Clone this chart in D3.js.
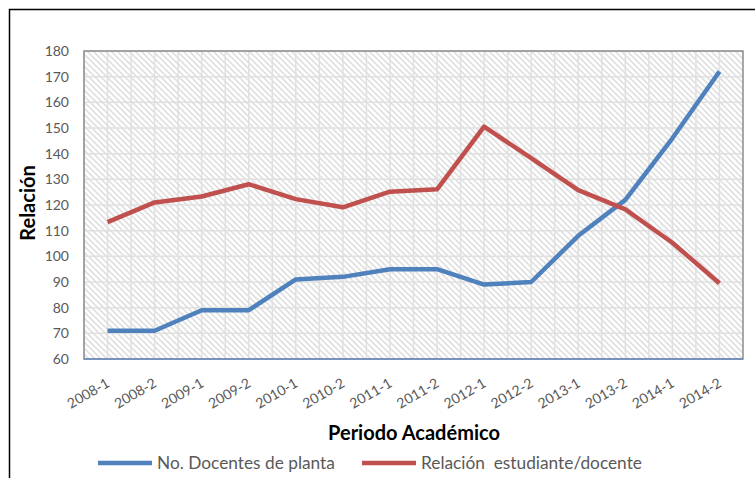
<!DOCTYPE html>
<html><head><meta charset="utf-8">
<script src="https://cdn.jsdelivr.net/npm/d3@7"></script>
<style>body{margin:0;background:#fff}svg{display:block}</style>
</head><body><div id="c"></div>
<script>
const categories = ["2008-1","2008-2","2009-1","2009-2","2010-1","2010-2","2011-1","2011-2","2012-1","2012-2","2013-1","2013-2","2014-1","2014-2"];
const docentes = [71,71,79,79,91,92,95,95,89,90,108,122,146,172];
const relacion = [113.3,121,123.3,128.1,122.3,119.1,125.2,126.1,150.5,138.3,125.8,118.3,105.3,89.5];
const yTicks = [60,70,80,90,100,110,120,130,140,150,160,170,180];
const seriesNames = ["No. Docentes de planta","Relación  estudiante/docente"];

const W=755,H=478;
const m={l:84,r:743,t:51,b:359};
const font="Lato, 'Open Sans', sans-serif";
const svg=d3.select("#c").append("svg").attr("width",W).attr("height",H);

const defs=svg.append("defs");
const pat=defs.append("pattern").attr("id","hatch").attr("patternUnits","userSpaceOnUse")
  .attr("width",6).attr("height",6);
pat.append("rect").attr("width",6).attr("height",6).attr("fill","#fff");
pat.append("path").attr("d","M-1,-1 L7,7 M-1,5 L1,7 M5,-1 L7,1").attr("stroke","#e0e0e0").attr("stroke-width",1.6);

// outer border
svg.append("path").attr("d",`M9.5,${H+5} L9.5,9.5 L${W+5},9.5`).attr("fill","none").attr("stroke","#000").attr("stroke-width",1.5);

const x=d3.scaleBand().domain(categories).range([m.l,m.r]).padding(0);
const y=d3.scaleLinear().domain([60,180]).range([m.b,m.t]);
const cx=d=>x(d)+x.bandwidth()/2;

svg.append("rect").attr("x",m.l).attr("y",m.t).attr("width",m.r-m.l).attr("height",m.b-m.t).attr("fill","url(#hatch)");

// gridlines
const g=svg.append("g");
const vx=[];
categories.forEach(c=>{vx.push(x(c));vx.push(cx(c));});
g.selectAll("line.v").data(vx).join("line").attr("x1",d=>d).attr("x2",d=>d).attr("y1",m.t).attr("y2",m.b)
  .attr("stroke","#e0e0e0").attr("stroke-width",1.5);
g.selectAll("line.h").data(yTicks).join("line").attr("x1",m.l).attr("x2",m.r).attr("y1",d=>y(d)).attr("y2",d=>y(d))
  .attr("stroke","#e0e0e0").attr("stroke-width",1.5);

// plot border
svg.append("rect").attr("x",m.l).attr("y",m.t).attr("width",m.r-m.l).attr("height",m.b-m.t)
  .attr("fill","none").attr("stroke","#8c8c8c").attr("stroke-width",1.5);
svg.append("line").attr("x1",m.l).attr("x2",m.r).attr("y1",m.b).attr("y2",m.b).attr("stroke","#6a8dc0").attr("stroke-width",1.5);

// y axis
const ya=svg.append("g").attr("transform",`translate(${m.l-15},0)`)
  .call(d3.axisLeft(y).tickValues(yTicks).tickSize(0).tickPadding(0));
ya.select(".domain").remove();
ya.selectAll("text").attr("font-family",font).attr("font-size",14).attr("fill","#595959");

// x axis
const xa=svg.append("g").attr("transform",`translate(0,${m.b})`)
  .call(d3.axisBottom(x).tickSize(0).tickPadding(0));
xa.select(".domain").remove();
xa.selectAll("text").attr("font-family",font).attr("font-size",14).attr("fill","#595959")
  .attr("text-anchor","end").attr("dy",0)
  .attr("transform","translate(3,27) rotate(-30)");

// lines
const line=d3.line().x((d,i)=>cx(categories[i])).y(d=>y(d));
svg.append("path").datum(docentes).attr("d",line).attr("fill","none").attr("stroke","#4f81bd").attr("stroke-width",4.5).attr("stroke-linejoin","round");
svg.append("path").datum(relacion).attr("d",line).attr("fill","none").attr("stroke","#c0504d").attr("stroke-width",4.5).attr("stroke-linejoin","round");

// titles
svg.append("text").attr("transform","translate(35,203) rotate(-90)").attr("text-anchor","middle")
  .attr("font-family",font).attr("font-weight","bold").attr("font-size",20).attr("fill","#000").text("Relación");
svg.append("text").attr("x",414).attr("y",440).attr("text-anchor","middle")
  .attr("font-family",font).attr("font-weight","bold").attr("font-size",20).attr("fill","#000").text("Periodo Académico");

// legend
const leg=[{x:98,c:"#4f81bd",t:seriesNames[0]},{x:362,c:"#c0504d",t:seriesNames[1]}];
leg.forEach(l=>{
  svg.append("line").attr("x1",l.x).attr("x2",l.x+54).attr("y1",463).attr("y2",463).attr("stroke",l.c).attr("stroke-width",4.5);
  svg.append("text").attr("x",l.x+59).attr("y",469).attr("font-family",font).attr("font-size",17.3).attr("fill","#595959").style("white-space","pre").text(l.t);
});
</script></body></html>
